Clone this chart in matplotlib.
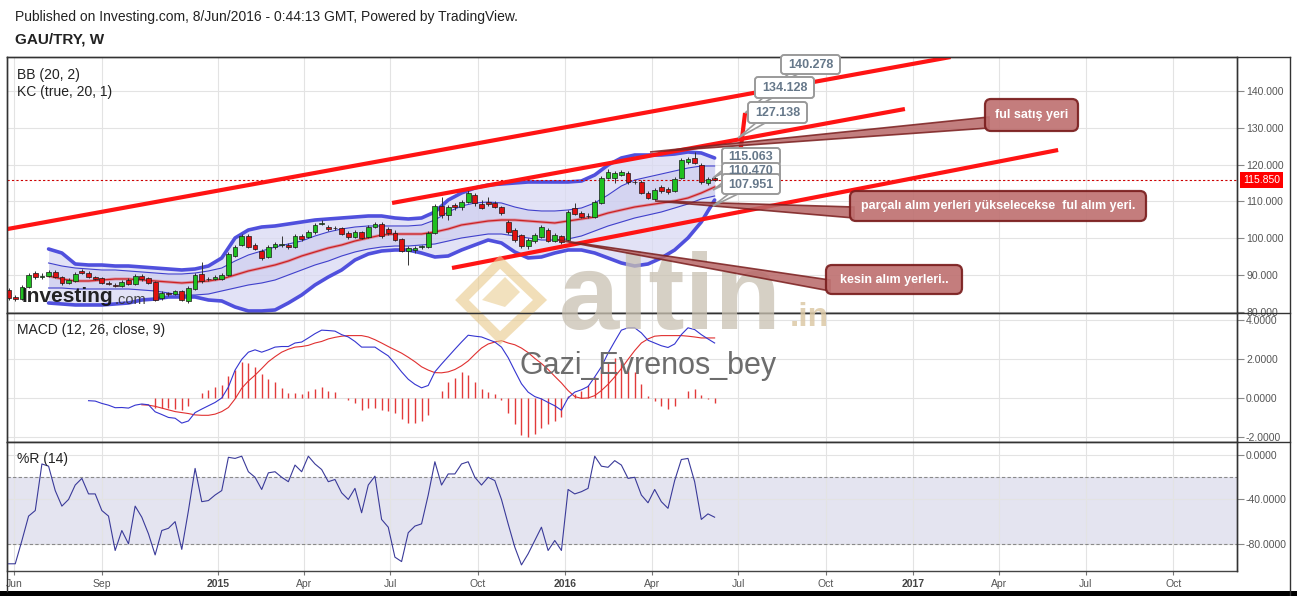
import datetime as dt
import matplotlib
matplotlib.use("Agg")
import matplotlib.pyplot as plt
import matplotlib.dates as mdates
from matplotlib.patches import FancyBboxPatch, Polygon, Rectangle
from matplotlib.lines import Line2D

W, H = 1297, 596
plt.rcParams['font.family'] = ['Liberation Sans', 'DejaVu Sans']

# ---------------- data (weekly GAU/TRY candles, first week 2014-05-26) ----------------
first_week = dt.date(2014, 5, 26)
opens = [85.97, 84.07, 83.50, 86.78, 90.58, 89.60, 89.80, 90.86, 89.50, 87.87,
         88.50, 91.13, 90.58, 89.50, 89.23, 87.87, 87.33, 87.05, 88.68, 87.60,
         89.77, 89.23, 88.14, 83.80, 85.00, 84.88, 85.70, 82.98, 86.24, 90.31,
         88.90, 88.96, 88.96, 90.04, 95.20, 98.19, 100.63, 98.19, 96.56, 94.93,
         97.64, 98.20, 98.19, 97.64, 100.63, 100.36, 101.72, 104.00, 103.07, 102.70,
         102.80, 101.44, 100.36, 101.72, 100.40, 103.07, 103.90, 102.50, 101.50, 99.82,
         96.56, 96.83, 97.60, 97.64, 101.44, 108.78, 106.33, 109.05, 108.50, 109.86,
         111.76, 109.32, 109.86, 109.59, 108.50, 104.43, 102.26, 100.90, 97.91, 99.27,
         100.36, 102.26, 99.27, 100.63, 99.54, 108.23, 106.87, 106.00, 105.79, 109.59,
         116.38, 116.38, 117.19, 117.74, 115.30, 115.29, 112.31, 110.68, 113.93, 113.39,
         112.85, 116.38, 120.72, 121.80, 120.00, 115.02, 116.38]
highs = [86.50, 84.60, 87.20, 90.60, 91.20, 90.50, 91.30, 91.50, 89.90, 89.10,
         90.80, 91.60, 91.00, 89.90, 89.60, 88.30, 87.80, 88.60, 89.10, 90.30,
         90.20, 89.60, 88.50, 85.60, 85.50, 86.10, 86.00, 87.00, 90.50, 93.60,
         89.50, 90.00, 90.50, 96.20, 98.20, 101.20, 101.10, 98.60, 97.00, 98.10,
         99.00, 100.50, 98.70, 101.20, 101.10, 102.30, 104.20, 104.90, 103.60, 103.30,
         103.20, 101.90, 102.20, 102.10, 103.50, 104.50, 104.30, 103.20, 102.30, 100.20,
         97.80, 97.90, 98.20, 101.90, 109.30, 111.30, 109.00, 109.60, 110.30, 113.60,
         112.20, 110.30, 111.20, 110.00, 108.90, 104.90, 102.70, 101.30, 100.00, 101.40,
         103.60, 102.70, 101.40, 101.00, 107.60, 109.50, 107.50, 106.80, 110.30, 116.90,
         118.90, 118.30, 118.60, 118.20, 115.90, 115.70, 112.80, 113.60, 114.40, 113.90,
         116.60, 121.80, 122.10, 123.30, 120.40, 116.60, 116.90]
lows = [83.30, 83.00, 83.20, 86.40, 89.00, 89.00, 89.40, 89.20, 87.40, 87.50,
        88.20, 90.20, 89.10, 88.60, 87.50, 87.20, 86.70, 86.80, 87.20, 87.30,
        88.50, 87.50, 82.90, 83.20, 84.40, 84.50, 82.90, 82.50, 86.00, 88.00,
        88.40, 88.60, 88.60, 89.80, 94.90, 97.80, 97.30, 96.70, 94.20, 94.60,
        97.20, 97.70, 97.00, 97.30, 99.40, 100.00, 101.30, 103.50, 102.10, 102.20,
        100.80, 99.90, 100.00, 99.70, 100.10, 102.70, 100.20, 101.00, 99.20, 96.20,
        92.76, 96.00, 97.00, 97.30, 101.20, 105.60, 105.00, 107.70, 107.80, 109.50,
        108.70, 107.90, 108.90, 108.10, 106.40, 101.30, 99.10, 97.50, 97.00, 98.80,
        100.00, 98.90, 98.90, 98.50, 99.20, 106.20, 105.40, 105.50, 105.40, 109.30,
        116.00, 115.00, 116.80, 114.80, 114.70, 111.90, 110.60, 110.30, 112.40, 112.10,
        112.50, 116.00, 120.30, 120.10, 114.80, 114.60, 115.50]
closes = [83.80, 83.52, 86.78, 90.04, 89.50, 89.75, 90.86, 89.50, 87.87, 88.68,
          90.31, 90.58, 89.50, 88.96, 87.87, 87.60, 87.05, 88.14, 87.60, 89.77,
          88.96, 87.87, 83.25, 85.15, 84.90, 85.70, 83.25, 86.51, 90.04, 88.41,
          89.00, 89.50, 90.04, 95.74, 97.64, 100.63, 97.64, 97.10, 94.66, 97.64,
          98.46, 98.30, 97.64, 100.63, 99.82, 101.72, 103.62, 104.20, 102.53, 102.80,
          101.17, 100.36, 101.72, 100.09, 103.07, 103.90, 100.63, 101.44, 99.54, 96.56,
          97.37, 97.37, 97.70, 101.44, 108.78, 106.33, 108.50, 108.50, 109.86, 112.31,
          109.59, 108.23, 109.32, 108.50, 106.87, 101.72, 99.54, 97.91, 99.54, 100.90,
          103.07, 99.27, 100.90, 99.00, 107.15, 106.60, 105.79, 106.10, 109.86, 116.38,
          118.01, 117.74, 118.01, 115.29, 115.20, 112.31, 110.95, 113.12, 112.85, 112.58,
          116.11, 121.27, 121.50, 120.50, 115.29, 116.11, 115.85]

# Bollinger (20,2) and Keltner (20,1) bands, read every second week from week 6
band_week_index = list(range(6, 107, 2))
bb_upper = [97.10, 96.01, 93.03, 92.75, 92.75, 92.48, 92.48, 92.21, 91.94, 91.67,
            91.40, 91.67, 92.48, 94.66, 100.09, 102.26, 103.07, 103.35, 103.89, 104.43,
            104.97, 105.25, 105.52, 105.79, 106.06, 106.06, 105.52, 105.25, 105.52, 107.15,
            110.40, 112.31, 113.66, 114.48, 114.75, 115.02, 115.29, 115.29, 115.29, 115.29,
            115.56, 117.19, 119.91, 121.81, 122.62, 122.62, 122.62, 122.89, 123.44, 123.17,
            121.81]
bb_lower = [82.44, 82.17, 81.90, 81.90, 81.90, 82.17, 82.44, 83.25, 83.52, 84.07,
            84.07, 84.07, 83.25, 82.98, 81.35, 80.27, 80.27, 80.54, 82.44, 84.61,
            87.33, 89.50, 91.40, 94.11, 95.74, 96.56, 96.83, 96.83, 96.01, 94.93,
            95.20, 96.83, 98.19, 99.54, 98.73, 96.29, 94.66, 94.93, 96.01, 96.83,
            96.83, 96.01, 94.66, 93.30, 92.48, 93.03, 94.66, 96.83, 100.09, 104.43,
            110.40]
bb_mid = [89.77, 88.96, 88.41, 88.41, 88.68, 88.96, 88.96, 88.68, 88.41, 88.14,
          87.87, 88.14, 88.41, 88.96, 90.04, 91.13, 91.94, 92.76, 93.84, 95.20,
          96.29, 97.37, 98.19, 99.27, 100.09, 100.90, 101.17, 101.17, 101.17, 101.72,
          102.53, 103.62, 104.16, 104.70, 104.97, 104.97, 104.70, 104.43, 104.16, 104.70,
          105.25, 105.79, 106.87, 107.69, 108.50, 109.05, 109.59, 110.13, 110.95, 112.31,
          113.93]
kc_upper = [93.30, 92.48, 91.94, 91.67, 91.40, 91.40, 91.13, 90.86, 90.58, 90.31,
            90.31, 90.58, 91.13, 91.94, 93.84, 95.47, 96.56, 97.64, 98.46, 99.27,
            100.63, 101.72, 102.53, 103.07, 103.35, 103.35, 103.35, 103.35, 103.62, 104.97,
            107.15, 108.78, 109.59, 109.86, 109.59, 108.50, 107.69, 107.42, 107.42, 107.69,
            108.23, 109.59, 111.76, 114.21, 115.83, 116.65, 117.46, 118.28, 119.09, 119.64,
            119.64]
kc_lower = [86.51, 86.51, 86.24, 86.24, 86.24, 86.24, 86.24, 85.97, 85.70, 85.15,
            84.61, 84.61, 84.88, 85.70, 86.51, 87.33, 87.87, 88.68, 90.04, 91.40,
            92.76, 93.84, 95.20, 96.29, 97.10, 97.64, 97.91, 97.91, 98.19, 98.46,
            99.27, 100.09, 100.63, 101.17, 101.17, 100.63, 100.09, 99.54, 99.54, 99.82,
            100.63, 101.99, 103.35, 104.43, 105.52, 106.33, 107.15, 108.23, 109.32, 110.68,
            111.49]

# MACD (12, 26, close, 9)
macd_first_week = 12
macd_line = [-0.14, -0.16, -0.28, -0.37, -0.50, -0.49, -0.52, -0.37, -0.31, -0.35,
             -0.71, -0.85, -1.00, -1.04, -1.29, -1.18, -0.75, -0.57, -0.40, -0.23,
             0.00, 0.56, 1.43, 1.98, 2.35, 2.47, 2.35, 2.47, 2.61, 2.64,
             2.64, 2.82, 2.87, 3.08, 3.30, 3.48, 3.46, 3.43, 3.25, 3.13,
             2.90, 2.61, 2.61, 2.61, 2.38, 2.16, 1.77, 1.34, 0.96, 0.70,
             0.52, 0.64, 1.34, 1.74, 2.12, 2.50, 2.87, 3.22, 3.17, 3.13,
             3.00, 2.87, 2.61,
             2.07, 1.39, 0.73, 0.30, 0.07, -0.05, -0.23, -0.40, -0.63, 0.00,
             0.30, 0.42, 0.59, 1.08, 1.60, 2.30, 2.90, 3.48, 3.60, 3.60,
             3.34, 2.96, 2.82, 2.68, 2.59, 2.77, 3.25, 3.60, 3.51, 3.25,
             3.03, 2.82]
signal_first_week = 20
signal_line = [-0.35, -0.37, -0.43, -0.52, -0.61, -0.70, -0.75, -0.80, -0.87, -0.89,
               -0.89, -0.83, -0.70, -0.49, -0.05, 0.50, 0.87, 1.17, 1.51, 1.86,
               2.12, 2.35, 2.50, 2.61, 2.64, 2.70, 2.82, 2.90, 3.03, 3.11,
               3.17, 3.20, 3.20, 3.20, 3.13, 2.99, 2.82, 2.64, 2.47, 2.30,
               2.09, 1.86, 1.60, 1.43, 1.30, 1.29, 1.34, 1.46, 1.65, 1.90,
               2.24, 2.56, 2.77, 2.87, 2.94,
               2.82, 2.73, 2.56, 2.33, 2.03, 1.77, 1.46, 1.11, 0.77, 0.38,
               0.07, -0.02, 0.00, 0.12, 0.38, 0.70, 1.08, 1.51, 1.98, 2.43,
               2.82, 3.03, 3.17, 3.20, 3.20, 3.20, 3.20, 3.17, 3.13, 3.08,
               3.08, 3.08]
hist_first_week = 22
macd_hist = [-0.49, -0.49, -0.49, -0.57, -0.63, -0.40, 0.02, 0.24, 0.43, 0.56,
             0.64, 1.11, 1.46, 1.83, 1.80, 1.57, 1.25, 0.96, 0.82, 0.52,
             0.28, 0.28, 0.21, 0.35, 0.47, 0.54, 0.38, 0.30, 0.00, -0.10,
             -0.28, -0.61, -0.54, -0.52, -0.61, -0.66, -0.75, -1.10, -1.27, -1.27,
             -1.18, -0.87, 0.00, 0.38, 0.82, 1.04, 1.34, 1.17, 0.82, 0.47,
             0.30, 0.20, -0.10,
             -0.75, -1.36, -1.91, -2.00, -1.84, -1.53, -1.36, -1.18, -0.97, 0.12,
             0.20, 0.38, 0.64, 1.08, 1.46, 1.77, 2.03, 1.95, 1.63, 1.34,
             0.70, 0.12, -0.17, -0.40, -0.57, -0.40, 0.00, 0.38, 0.47, 0.17,
             -0.05, -0.28]

# Williams %R (14)
williams_r = [-98, -98, -77, -55, -50, -8, -10, -32, -46, -40,
              -27, -21, -35, -35, -50, -55, -86, -68, -80, -46,
              -56, -71, -90, -68, -66, -60, -85, -50, -12, -42,
              -41, -36, -32, -2, -3, -1, -15, -20, -31, -16,
              -15, -20, -24, -9, -15, -1, -8, -13, -24, -22,
              -34, -40, -30, -52, -27, -19, -58, -65, -92, -96,
              -70, -64, -62, -36, -6, -27, -17, -17, -8, -6,
              -20, -27, -20, -23, -40, -62, -83, -99, -89, -77,
              -65, -86, -77, -86, -31, -35, -33, -30, -1, -10,
              -11, -5, -9, -21, -20, -36, -43, -31, -42, -48,
              -23, -4, -3, -24, -58, -53, -56]

last_price = 115.85

# user drawn trend lines: ((date, price), (date, price))
trend_lines = [((dt.date(2014, 5, 25), 102.53), (dt.date(2017, 2, 9), 149.23)),
               ((dt.date(2015, 7, 3), 109.59), (dt.date(2016, 12, 23), 135.11)),
               ((dt.date(2015, 9, 4), 91.94), (dt.date(2017, 6, 2), 123.98)),
               ((dt.date(2016, 7, 1), 119.09), (dt.date(2016, 7, 8), 134.03))]

x_ticks = [dt.date(2014, 6, 1), dt.date(2014, 9, 1), dt.date(2015, 1, 1), dt.date(2015, 4, 1),
           dt.date(2015, 7, 1), dt.date(2015, 10, 1), dt.date(2016, 1, 1), dt.date(2016, 4, 1),
           dt.date(2016, 7, 1), dt.date(2016, 10, 1), dt.date(2017, 1, 1), dt.date(2017, 4, 1),
           dt.date(2017, 7, 1), dt.date(2017, 10, 1)]
x_labels = ['Jun', 'Sep', '2015', 'Apr', 'Jul', 'Oct', '2016', 'Apr', 'Jul', 'Oct',
            '2017', 'Apr', 'Jul', 'Oct']
price_ticks = [80, 90, 100, 110, 120, 130, 140]
macd_ticks = [-2, 0, 2, 4]
wr_ticks = [-80, -40, 0]

# ---------------- figure ----------------
fig = plt.figure(figsize=(W / 100, H / 100), dpi=100)
fig.patch.set_facecolor('white')

X0, X1 = 6.7, 1237


def add_ax(ytop, ybot):
    return fig.add_axes([X0 / W, 1 - ybot / H, (X1 - X0) / W, (ybot - ytop) / H])


ax1 = add_ax(57, 313)
ax2 = add_ax(313, 442)
ax3 = add_ax(442, 571)

xmin = mdates.date2num(dt.date(2014, 5, 24))
xmax = mdates.date2num(dt.date(2017, 12, 7))
grid_c = '#e3e3e3'
axis_txt = '#555555'
for ax in (ax1, ax2, ax3):
    ax.set_xlim(xmin, xmax)
    ax.set_xticks(mdates.date2num(x_ticks))
    ax.grid(True, color=grid_c, lw=0.8, zorder=0)
    ax.set_axisbelow(True)
    ax.yaxis.tick_right()
    ax.tick_params(axis='y', length=5, width=0.8, color='#888888', labelsize=7.5,
                   labelcolor=axis_txt, pad=1.5)
    ax.tick_params(axis='x', length=0, labelbottom=False)
    for s in ax.spines.values():
        s.set_color('#444444')
        s.set_linewidth(1.0)
ax3.tick_params(axis='x', length=3, color='#777777', labelbottom=True, labelsize=7.5,
                labelcolor=axis_txt, pad=2.5)
ax3.set_xticklabels(x_labels)
for lab in ax3.get_xticklabels():
    if lab.get_text().isdigit():
        lab.set_fontweight('bold')
        lab.set_color('#444444')

weeks = [first_week + dt.timedelta(weeks=i) for i in range(len(closes))]
xw = mdates.date2num(weeks)
xb = [xw[i] for i in band_week_index]

# --- price panel
ax1.set_ylim(79.72, 149.23)
ax1.set_yticks(price_ticks)
ax1.set_yticklabels([f'{v:.3f}' for v in price_ticks])
ax1.fill_between(xb, bb_lower, bb_upper, color='#d9d9f3', alpha=0.75, lw=0, zorder=1)
ax1.fill_between(xb, kc_lower, kc_upper, color='#c4c4ec', alpha=0.45, lw=0, zorder=1)
ax1.plot(xb, bb_upper, color='#5050dd', lw=2.6, zorder=2, solid_capstyle='round')
ax1.plot(xb, bb_lower, color='#5050dd', lw=2.6, zorder=2, solid_capstyle='round')
ax1.plot(xb, kc_upper, color='#4040cc', lw=0.8, zorder=2)
ax1.plot(xb, kc_lower, color='#4040cc', lw=0.8, zorder=2)
ax1.plot(xb, bb_mid, color='#e06a7a', lw=2.2, alpha=0.6, zorder=2)
ax1.plot(xb, bb_mid, color='#cc2222', lw=0.9, zorder=2)

body_w = 5.0
for xi, o, h, l, c in zip(xw, opens, highs, lows, closes):
    up = c >= o
    ax1.vlines(xi, l, h, color='#333333', lw=0.7, zorder=4)
    bot = min(o, c)
    hgt = max(abs(c - o), 0.18)
    ax1.add_patch(Rectangle((xi - body_w / 2, bot), body_w, hgt,
                            facecolor='#1fc01f' if up else '#e01010',
                            edgecolor='#1a1a1a', lw=0.5, zorder=5))

ax1.axhline(last_price, color='#cc0000', lw=0.8, ls=(0, (2, 2)), zorder=3)
for (d0, p0), (d1, p1) in trend_lines:
    ax1.plot(mdates.date2num([d0, d1]), [p0, p1], color='#ff1414', lw=3.0,
             solid_capstyle='butt', zorder=6, clip_on=True)
ax1.text(1.0049, last_price, f'{last_price:.3f}', transform=ax1.get_yaxis_transform(),
         ha='left', va='center', fontsize=7.5, color='white',
         bbox=dict(boxstyle='square,pad=0.25', fc='#ff0000', ec='none'), zorder=10)
ax1.text(0.0085, 0.93, 'BB (20, 2)', transform=ax1.transAxes, fontsize=10, color='#222222', va='center')
ax1.text(0.0085, 0.865, 'KC (true, 20, 1)', transform=ax1.transAxes, fontsize=10, color='#222222', va='center')

# --- MACD panel
ax2.set_ylim(-2.26, 4.36)
ax2.set_yticks(macd_ticks)
ax2.set_yticklabels([f'{v:.4f}' for v in macd_ticks])
xm = xw[macd_first_week:macd_first_week + len(macd_line)]
xs = xw[signal_first_week:signal_first_week + len(signal_line)]
xh = xw[hist_first_week:hist_first_week + len(macd_hist)]
ax2.vlines(xh, 0, macd_hist, color='#e23a3a', lw=1.0, zorder=2)
ax2.plot(xs, signal_line, color='#e03030', lw=0.8, zorder=3)
ax2.plot(xm, macd_line, color='#3535d0', lw=0.8, zorder=3)
ax2.text(0.0085, 0.87, 'MACD (12, 26, close, 9)', transform=ax2.transAxes, fontsize=10,
         color='#222222', va='center')

# --- Williams %R panel
ax3.set_ylim(-104.5, 11.8)
ax3.set_yticks(wr_ticks)
ax3.set_yticklabels([f'{v:.4f}' for v in wr_ticks])
ax3.axhspan(-80, -20, color='#e4e4f0', zorder=0.5, lw=0)
for lv in (-20, -80):
    ax3.axhline(lv, color='#8a8a8a', lw=0.8, ls=(0, (3, 2)), zorder=1)
ax3.plot(xw, williams_r, color='#3a3a99', lw=0.8, zorder=3)
ax3.text(0.0085, 0.87, '%R (14)', transform=ax3.transAxes, fontsize=10, color='#222222', va='center')

# ---------------- overlay in pixel coordinates (decorations) ----------------
ov = fig.add_axes([0, 0, 1, 1], zorder=20)
ov.set_xlim(0, W)
ov.set_ylim(H, 0)
ov.axis('off')
ov.patch.set_alpha(0)

ov.text(15, 17, 'Published on Investing.com, 8/Jun/2016 - 0:44:13 GMT, Powered by TradingView.',
        fontsize=10, color='#222222', va='center', ha='left')
ov.text(15, 40, 'GAU/TRY, W', fontsize=11, fontweight='bold', color='#222222', va='center', ha='left')

# frame pieces outside plotting axes
for (xa, ya, xb_, yb) in [(X0, 57, 1290, 57), (X1, 57, X1, 571), (1290, 57, 1290, 596),
                          (X0, 313, 1290, 313), (X0, 442, 1290, 442), (X0, 57, X0, 591)]:
    ov.add_line(Line2D([xa, xb_], [ya, yb], color='#333333', lw=1.0))
ov.add_patch(Rectangle((0, 591), W, 5, color='black', lw=0))

# watermark logos
ov.text(22, 297, 'Investing', fontsize=15, fontweight='bold', color='#111111', va='center', ha='left',
        alpha=0.92)
ov.text(115, 300, '.com', fontsize=10.5, color='#333333', va='center', ha='left', alpha=0.9)
ov.add_patch(Polygon([(462, 300), (500, 262), (540, 300), (500, 338)], closed=True,
                     fc='none', ec='#e8c98a', lw=7, alpha=0.6))
ov.add_patch(Polygon([(482, 300), (505, 277), (520, 292), (505, 307)], closed=True,
                     fc='#e8c98a', ec='none', alpha=0.55))
ov.text(559, 301, 'altin', fontsize=78, fontweight='bold', color='#c9c1b2', va='center', ha='left',
        alpha=0.75)
ov.text(790, 318, '.in', fontsize=24, fontweight='bold', color='#dcc9a6', va='center', ha='left',
        alpha=0.85)
ov.text(648, 366, 'Gazi_Evrenos_bey', fontsize=22, color='#6d6d6d', va='center', ha='center')


def rbox(x0, y0, x1, y1, fc, ec, lw, r=4, alpha=1.0, z=5):
    ov.add_patch(FancyBboxPatch((x0, y0), x1 - x0, y1 - y0,
                                boxstyle=f'round,pad=0,rounding_size={r}',
                                fc=fc, ec=ec, lw=lw, alpha=alpha, zorder=z))


# brown comment callouts
callouts = [
    ('ful satış yeri', (985, 99, 1078, 131), (650, 152)),
    ('parçalı alım yerleri yükselecekse  ful alım yeri.', (850, 191, 1146, 221), (655, 201)),
    ('kesin alım yerleri..', (826, 265, 962, 294), (558, 240)),
]
for txt, (bx0, by0, bx1, by1), (tx, ty) in callouts:
    ov.add_patch(Polygon([(tx, ty), (bx0 + 4, by1 - 14), (bx0 + 4, by1 - 3)], closed=True,
                         fc='#b86868', ec='#7a1e1e', lw=1.2, alpha=0.85, zorder=4))
    rbox(bx0, by0, bx1, by1, '#bf7272', '#7a1e1e', 1.6, r=6, alpha=0.92, z=5)
    ov.text((bx0 + bx1) / 2, (by0 + by1) / 2, txt, fontsize=9, color='white', fontweight='bold',
            ha='center', va='center', zorder=6)

# price labels of the projection tool
price_boxes = [('140.278', (781, 55, 840, 74), (790, 74), (770, 88)),
               ('134.128', (755, 77, 814, 98), (764, 98), (745, 113)),
               ('127.138', (748, 102, 807, 123), (757, 123), (738, 138)),
               ('115.063', (722, 148, 780, 165), (730, 165), (713, 178)),
               ('110.470', (722, 163, 780, 178), (730, 178), (713, 190)),
               ('107.951', (722, 174, 780, 194), (730, 194), (713, 206))]
for txt, (bx0, by0, bx1, by1), (sx, sy), (tx, ty) in price_boxes:
    ov.add_patch(Polygon([(sx, sy - 1), (sx + 10, sy - 1), (tx, ty)], closed=True,
                         fc='white', ec='#9a9a9a', lw=1.2, zorder=7))
    rbox(bx0, by0, bx1, by1, 'white', '#9a9a9a', 1.4, r=3, z=8)
    ov.text((bx0 + bx1) / 2, (by0 + by1) / 2 + 0.5, txt, fontsize=9, color='#66788a',
            fontweight='bold', ha='center', va='center', zorder=9)

fig.savefig('out.png', dpi=100, facecolor='white')
